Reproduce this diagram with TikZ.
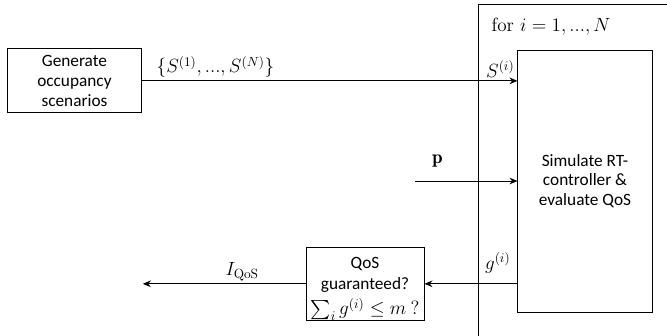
\documentclass[tikz,border=0pt]{standalone}
\usepackage{fontspec}
\usepackage{amsmath}
\usepackage{tikz}
\usetikzlibrary{arrows.meta, positioning, calc}
\newfontfamily\boxfont{Carlito}

\begin{document}
\begin{tikzpicture}[
      block/.style={draw, line width=0.7pt, align=center,
                    font=\boxfont\fontsize{13}{14.8}\selectfont, inner sep=1pt},
      flow/.style={-{Stealth[length=6pt, width=5pt]}, line width=0.7pt},
      lbl/.style={font=\Large, inner sep=2pt}]
    \useasboundingbox (0,0) rectangle (17.65,-8.89);
    \clip (0,0) rectangle (17.65,-8.89);
    % loop frame, runs off the page to the right and below
    \coordinate (loopTL) at (12.67,-0.13);
    \draw[line width=0.7pt] (loopTL |- 0,-9.5) -- (loopTL) -- (18.5,-0.13);
    \node[lbl, anchor=west] (loopLbl) at (12.93,-0.71) {for $i=1,...,N$};
    \node[block, minimum width=3.57cm, minimum height=1.69cm] (gen) at (1.97,-2.14)
      {Generate\\occupancy\\scenarios};
    \node[block, minimum width=3.55cm, minimum height=6.93cm] (sim) at (15.48,-4.79)
      {Simulate RT-\\controller \&\\evaluate QoS};
    \node[block, minimum width=3.12cm, minimum height=1.82cm, inner sep=0pt,
          font=\boxfont\fontsize{13}{15.5}\selectfont] (qos) at (9.66,-7.51)
      {\rule{0pt}{16pt}QoS\\guaranteed?\\[4pt]{\Large$\sum_i g^{(i)}\leq m\ ?$}};
    \coordinate (pIn) at (10.98,-4.79);
    \coordinate (qosOut) at (3.78,-7.51);
    \draw[flow] (gen.east) -- (gen.east -| sim.west)
      node[lbl, pos=0.03, above right] {$\{S^{(1)},...,S^{(N)}\}$}
      node[lbl, pos=1, above left] {$S^{(i)}$};
    \draw[flow] (pIn) -- (sim.west)
      node[lbl, pos=0.22, above=8pt] {$\mathbf{p}$};
    \draw[flow] (qos.east -| sim.west) -- (qos.east)
      node[lbl, pos=0, above left=6pt and 3pt] {$g^{(i)}$};
    \draw[flow] (qos.west) -- (qosOut)
      node[lbl, pos=0.39, above] {$I_{\mathrm{QoS}}$};
  \end{tikzpicture}
\end{document}
